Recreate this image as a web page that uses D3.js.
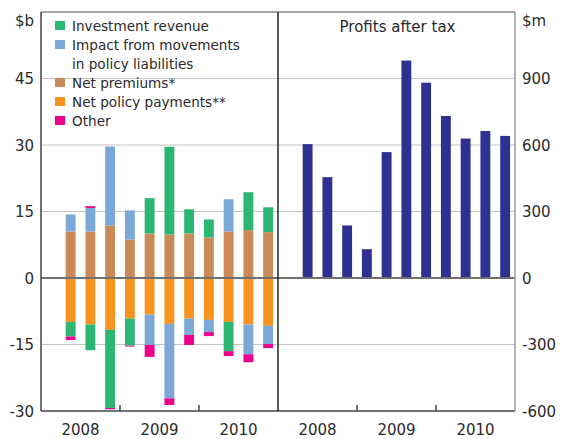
<!DOCTYPE html>
<html>
<head>
<meta charset="utf-8">
<script src="https://cdn.jsdelivr.net/npm/d3@7"></script>
<style>
body { margin: 0; background: #fff; }
svg { font-family: "DejaVu Sans", Arial, sans-serif; }
</style>
</head>
<body>
<div id="chart"></div>
<script>
const w = 570;
const h = 439;

// Data (quarters 2008 Q2 to 2010 Q4), $b
const years = ['2008', '2009', '2010'];
const quarters = ['2008Q2','2008Q3','2008Q4','2009Q1','2009Q2','2009Q3','2009Q4','2010Q1','2010Q2','2010Q3','2010Q4'];
const netPremiums   = [10.5, 10.5, 11.85, 8.7, 10.05, 9.8, 10.05, 9.15, 10.5, 10.8, 10.35];
const netPayments   = [-9.9, -10.5, -11.7, -9.15, -8.25, -10.35, -9.15, -9.45, -9.9, -10.5, -10.8];
const investment    = [-3.3, -5.8, -17.6, -6.1, 7.95, 19.8, 5.45, 4.05, -6.6, 8.55, 5.6];
const impact        = [3.85, 5.3, 17.8, 6.55, -6.85, -16.8, -3.7, -2.75, 7.25, -6.7, -4.1];
const other         = [-0.8, 0.4, -0.3, -0.2, -2.7, -1.5, -2.25, -0.9, -1.1, -1.8, -0.9];
// $m
const profits = [604, 455, 237, 130, 568, 981, 881, 731, 629, 663, 641];

const leftTicks = [-30, -15, 0, 15, 30, 45];
const rightTicks = [-600, -300, 0, 300, 600, 900];

const legendItems = [
  {label: ['Investment revenue'], color: '#2bb673'},
  {label: ['Impact from movements', 'in policy liabilities'], color: '#7ba7d9'},
  {label: ['Net premiums*'], color: '#c98a57'},
  {label: ['Net policy payments**'], color: '#f7931e'},
  {label: ['Other'], color: '#ec008c'}
];

const colors = {prem: '#c98a57', pay: '#f7931e', inv: '#2bb673', imp: '#7ba7d9', oth: '#ec008c'};

// layout
const xL = 41, xM = 278, xR = 515;
const yTop = 12, yBot = 411;
const txt = '#2a2a2a';

const svg = d3.select('#chart').append('svg')
  .attr('width', w).attr('height', h);

// all quarter slots (incl. the empty 2008Q1)
const slots = [];
years.forEach(y => [1,2,3,4].forEach(q => slots.push(y + 'Q' + q)));

const xLeft = d3.scaleBand().domain(slots).range([xL, xM]).paddingInner(0.5).paddingOuter(0.25);
const xRight = d3.scaleBand().domain(slots).range([xM, xR]).paddingInner(0.5).paddingOuter(0.25);

const yLeft = d3.scaleLinear().domain([-30, 60]).range([yBot, yTop]);
const yRight = d3.scaleLinear().domain([-600, 1200]).range([yBot, yTop]);

// gridlines
svg.append('g').selectAll('line').data(leftTicks.filter(d => d !== 0 && d !== -30))
  .enter().append('line')
  .attr('x1', xL).attr('x2', xR)
  .attr('y1', d => yLeft(d)).attr('y2', d => yLeft(d))
  .attr('stroke', '#c4c4c4').attr('stroke-width', 1);

// stacked bars
const rows = quarters.map((q, i) => ({q, prem: netPremiums[i], pay: netPayments[i], inv: investment[i], imp: impact[i], oth: other[i]}));
const keys = ['prem', 'pay', 'inv', 'imp', 'oth'];
const stacked = d3.stack().keys(keys).offset(d3.stackOffsetDiverging)(rows);

svg.append('g').selectAll('g').data(stacked).enter().append('g')
  .attr('fill', d => colors[d.key])
  .selectAll('rect').data(d => d).enter().append('rect')
  .attr('x', d => xLeft(d.data.q))
  .attr('width', xLeft.bandwidth())
  .attr('y', d => yLeft(Math.max(d[0], d[1])))
  .attr('height', d => Math.abs(yLeft(d[0]) - yLeft(d[1])));

// profits bars
svg.append('g').selectAll('rect').data(profits).enter().append('rect')
  .attr('x', (d, i) => xRight(quarters[i]))
  .attr('width', xRight.bandwidth())
  .attr('y', d => yRight(d))
  .attr('height', d => yRight(0) - yRight(d))
  .attr('fill', '#2e3192');

// zero line
svg.append('line')
  .attr('x1', xL).attr('x2', xR)
  .attr('y1', yLeft(0)).attr('y2', yLeft(0))
  .attr('stroke', '#707070').attr('stroke-width', 2);

// frame
svg.append('line').attr('x1', xL).attr('x2', xR).attr('y1', yTop).attr('y2', yTop)
  .attr('stroke', '#555').attr('stroke-width', 1);
svg.append('line').attr('x1', xL).attr('x2', xR).attr('y1', yBot).attr('y2', yBot)
  .attr('stroke', '#444').attr('stroke-width', 1.5);
svg.append('line').attr('x1', xL).attr('x2', xL).attr('y1', yTop).attr('y2', yBot)
  .attr('stroke', '#444').attr('stroke-width', 1.5);
svg.append('line').attr('x1', xM).attr('x2', xM).attr('y1', yTop).attr('y2', yBot)
  .attr('stroke', '#222').attr('stroke-width', 1.5);
svg.append('line').attr('x1', xR).attr('x2', xR).attr('y1', yTop).attr('y2', yBot)
  .attr('stroke', '#999').attr('stroke-width', 1.5);

// year ticks on the bottom axis
const yearStarts = [];
[xLeft, xRight].forEach(sc => years.forEach((y, i) => {
  if (i > 0) yearStarts.push(sc(y + 'Q1') - sc.step() * sc.paddingInner() / 2);
}));
svg.append('g').selectAll('line').data(yearStarts).enter().append('line')
  .attr('x1', d => d).attr('x2', d => d)
  .attr('y1', yBot).attr('y2', yBot - 6)
  .attr('stroke', '#444').attr('stroke-width', 1.5);

// year labels
const yearLabels = [];
[xLeft, xRight].forEach(sc => years.forEach(y => {
  const a = sc(y + 'Q1'), b = sc(y + 'Q4') + sc.bandwidth();
  yearLabels.push({y, x: (a + b) / 2});
}));
svg.append('g').selectAll('text').data(yearLabels).enter().append('text')
  .attr('x', d => d.x).attr('y', 435)
  .attr('text-anchor', 'middle')
  .attr('font-size', 15).attr('fill', txt)
  .text(d => d.y);

// left axis labels
svg.append('g').selectAll('text').data(leftTicks).enter().append('text')
  .attr('x', 34).attr('y', d => yLeft(d) + 5.5)
  .attr('text-anchor', 'end')
  .attr('font-size', 15).attr('fill', txt)
  .text(d => d);
svg.append('text').attr('x', 34).attr('y', 26).attr('text-anchor', 'end')
  .attr('font-size', 15).attr('fill', txt).text('$b');

// right axis labels
svg.append('g').selectAll('text').data(rightTicks).enter().append('text')
  .attr('x', 522).attr('y', d => yRight(d) + 5.5)
  .attr('font-size', 15).attr('fill', txt)
  .text(d => d);
svg.append('text').attr('x', 522).attr('y', 26)
  .attr('font-size', 15).attr('fill', txt).text('$m');

// panel title
svg.append('text').attr('x', (xM + xR) / 2 + 1).attr('y', 32)
  .attr('text-anchor', 'middle')
  .attr('font-size', 15).attr('fill', txt).text('Profits after tax');

// legend
const legend = svg.append('g').attr('id', 'legend');
let ly = 20;
legendItems.forEach(item => {
  legend.append('rect').attr('x', 55).attr('y', ly + 1).attr('width', 10).attr('height', 9)
    .attr('fill', item.color);
  item.label.forEach((t, j) => {
    legend.append('text').attr('x', 72).attr('y', ly + 11 + j * 19)
      .attr('font-size', 13.6).attr('fill', txt).text(t);
  });
  ly += 19 * item.label.length;
});
</script>
</body>
</html>
